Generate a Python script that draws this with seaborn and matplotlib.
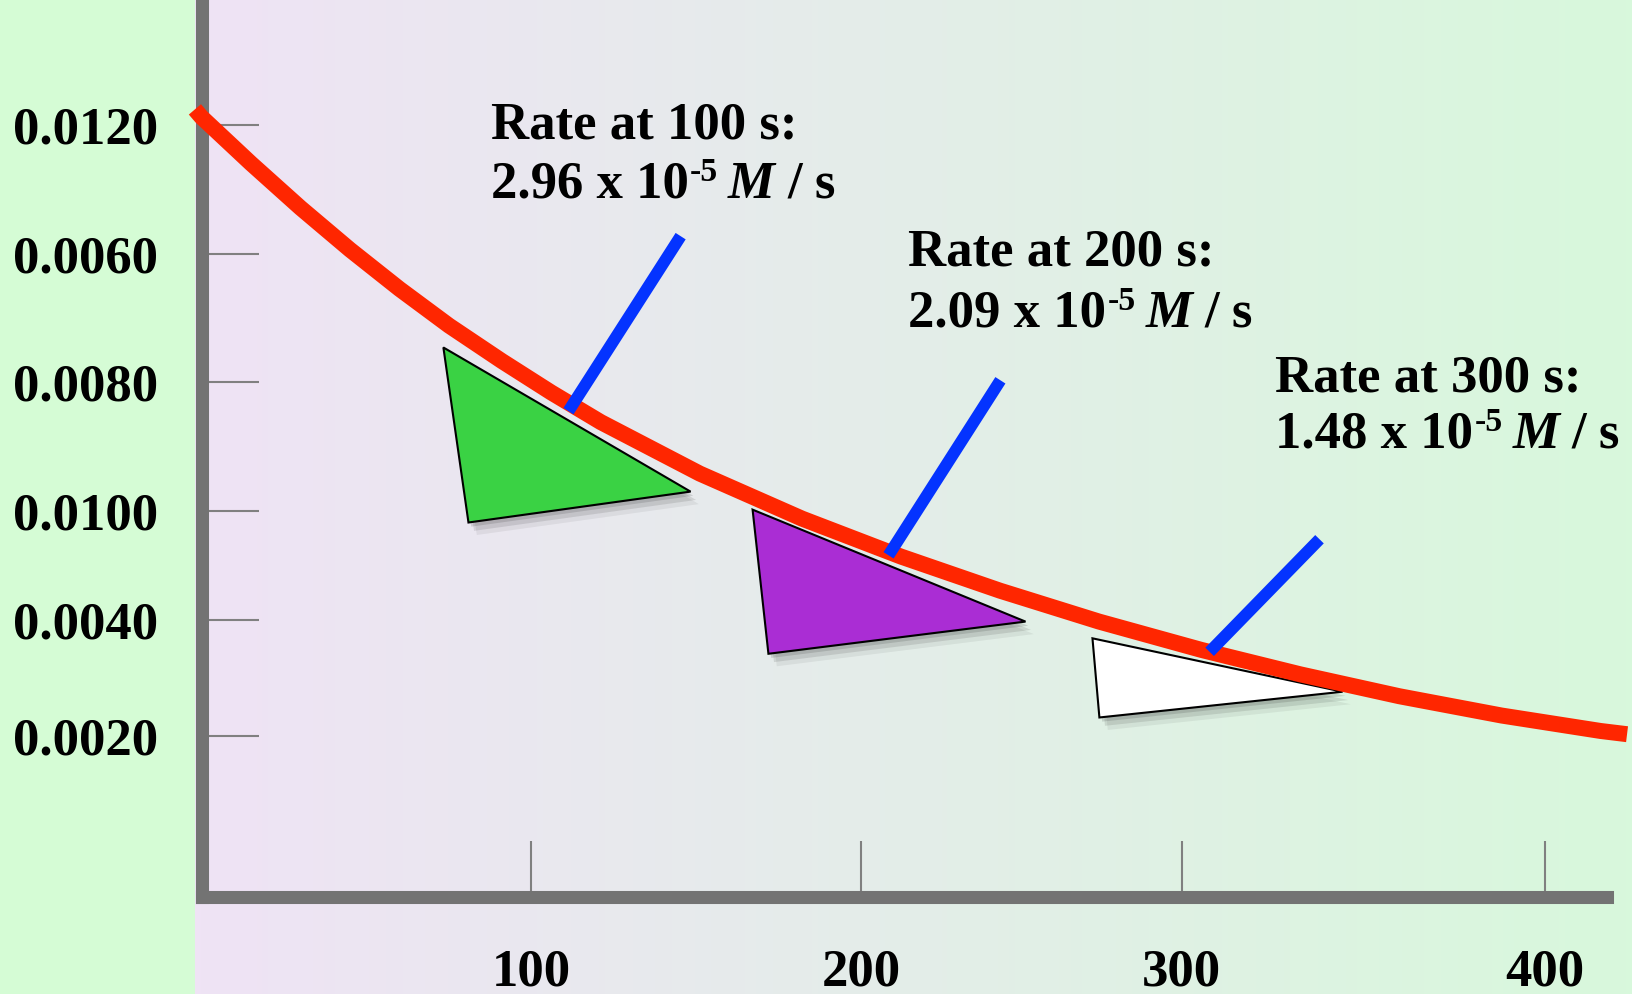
import numpy as np
import matplotlib
matplotlib.use("Agg")
import matplotlib.pyplot as plt
import matplotlib.patheffects as pe
from matplotlib.patches import Polygon
from matplotlib.colors import LinearSegmentedColormap
import seaborn as sns

# concentration curve (time in s, concentration in M)
time_s = [-2, 0, 15, 30, 45, 60, 75, 91, 106, 121, 151, 182, 212, 242, 272, 303, 333, 363, 394, 424, 432]
conc_M = [0.01224, 0.01212, 0.01140, 0.01071, 0.01006, 0.00945, 0.00888, 0.00833, 0.00784, 0.00738,
          0.00658, 0.00588, 0.00529, 0.00476, 0.00428, 0.00384, 0.00346, 0.00312, 0.00282, 0.00258, 0.00253]

x_ticks = [100, 200, 297, 407]
x_labels = ["100", "200", "300", "400"]
y_ticks = [0.0120, 0.0100, 0.0080, 0.0060, 0.0043, 0.0025]
y_labels = ["0.0120", "0.0060", "0.0080", "0.0100", "0.0040", "0.0020"]

# slope triangles under the curve
tri_t = [[73.3, 80.9, 148.2], [167.0, 171.8, 249.7], [270.0, 272.1, 345.8]]
tri_c = [[0.00854, 0.00582, 0.00630], [0.00602, 0.00378, 0.00428], [0.00402, 0.00279, 0.00319]]
tri_colors = ["#3ad244", "#aa2dd4", "#ffffff"]

# blue pointer lines
ptr_t = [[111.2, 145.2], [208.2, 242.1], [305.5, 338.8]]
ptr_c = [[0.00755, 0.01027], [0.00531, 0.00803], [0.00381, 0.00556]]

# rate labels
rate_time = ["100", "200", "300"]
rate_value = ["2.96", "2.09", "1.48"]
label_t = [87.7, 214.1, 325.3]
label_c1 = [0.011783, 0.009809, 0.00785]
label_c2 = [0.010866, 0.008861, 0.00698]

sns.set_style("white")
plt.rcParams["font.family"] = ["Liberation Serif", "DejaVu Serif"]
plt.rcParams["text.color"] = "black"
FS = 38

W, H = 1632, 994
fig = plt.figure(figsize=(W / 100, H / 100), dpi=100, facecolor="#d5fcd5")

# gradient backdrop right of the y axis
bg = fig.add_axes([195 / W, 0, 1 - 195 / W, 1])
cmap = LinearSegmentedColormap.from_list("bg", ["#efe3f5", "#d8f8dc"])
bg.imshow(np.linspace(0, 1, 256)[None, :], aspect="auto", cmap=cmap, extent=[0, 1, 0, 1])
bg.set_axis_off()

ax = fig.add_axes([201.5 / W, 97 / H, (W - 201.5) / W, 897 / H])
ax.patch.set_alpha(0)
ax.set_xlim(0, 433.5)
ax.set_ylim(0, 0.01394)

for s in ["top", "right"]:
    ax.spines[s].set_visible(False)
for s in ["left", "bottom"]:
    ax.spines[s].set_color("#737373")
    ax.spines[s].set_linewidth(9.4)
ax.spines["bottom"].set_bounds(0, 425.8)

ax.set_xticks(x_ticks)
ax.set_xticklabels(x_labels, fontweight="bold")
ax.set_yticks(y_ticks)
ax.set_yticklabels(y_labels, fontweight="bold")
ax.tick_params(axis="y", left=True, direction="in", length=41, width=1.5, color="#808080",
               pad=31, labelsize=FS, labelcolor="black")
ax.tick_params(axis="x", bottom=True, direction="in", length=40, width=1.5, color="#808080",
               pad=37, labelsize=FS, labelcolor="black")

# the decay curve
sns.lineplot(x=time_s, y=conc_M, ax=ax, color="#ff2600", linewidth=11.5, zorder=4)
curve = ax.lines[-1]
curve.set_clip_on(False)
curve.set_solid_capstyle("butt")
curve.set_solid_joinstyle("round")

shadow = [pe.SimplePatchShadow(offset=(2, -3), shadow_rgbFace="k", alpha=0.12),
          pe.SimplePatchShadow(offset=(4, -6), shadow_rgbFace="k", alpha=0.10),
          pe.SimplePatchShadow(offset=(6, -9), shadow_rgbFace="k", alpha=0.06),
          pe.Normal()]
for tt, cc, col in zip(tri_t, tri_c, tri_colors):
    ax.add_patch(Polygon(list(zip(tt, cc)), closed=True, facecolor=col, edgecolor="black",
                         linewidth=1.5, zorder=3, path_effects=shadow))

for tt, cc in zip(ptr_t, ptr_c):
    ax.plot(tt, cc, color="#0433ff", linewidth=8.6, solid_capstyle="butt", zorder=5)

for rt, rv, x, y1, y2 in zip(rate_time, rate_value, label_t, label_c1, label_c2):
    ax.text(x, y1, f"Rate at {rt} s:", fontsize=FS, fontweight="bold", va="baseline", ha="left")
    t1 = ax.text(x, y2, f"{rv} x 10", fontsize=FS, fontweight="bold", va="baseline", ha="left")
    t2 = ax.annotate("-5", xy=(1, 0), xycoords=t1, xytext=(1, 0.40 * FS), textcoords="offset points",
                     fontsize=FS * 0.64, fontweight="bold", va="bottom", ha="left")
    t3 = ax.annotate("M", xy=(1, 0), xycoords=(t2, t1), xytext=(7, 0), textcoords="offset points",
                     fontsize=FS, fontweight="bold", fontstyle="italic", va="bottom", ha="left")
    ax.annotate("/ s", xy=(1, 0), xycoords=(t3, t1), xytext=(9, 0), textcoords="offset points",
                fontsize=FS, fontweight="bold", va="bottom", ha="left")

fig.savefig("out.png", dpi=100, facecolor=fig.get_facecolor())
